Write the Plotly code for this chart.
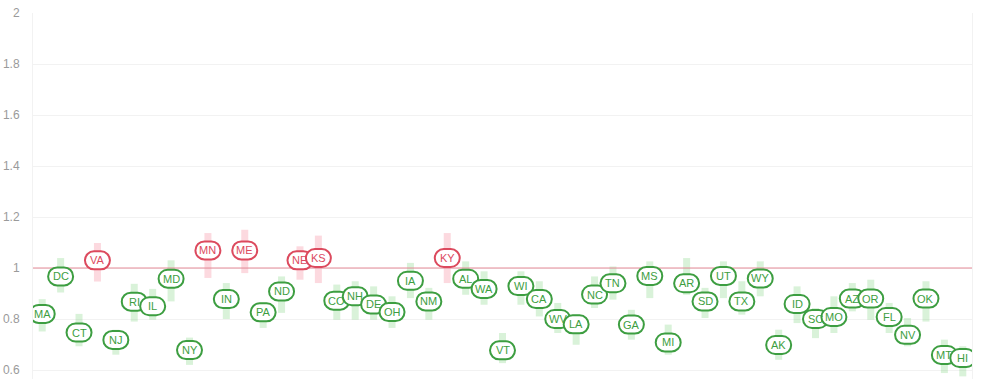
import plotly.graph_objects as go

states = ["MA","DC","CT","VA","NJ","RI","IL","MD","NY","MN","IN","ME","PA","ND","NE","KS",
          "CO","NH","DE","OH","IA","NM","KY","AL","WA","VT","WI","CA","WV","LA","NC","TN",
          "GA","MS","MI","AR","SD","UT","TX","WY","AK","ID","SC","MO","AZ","OR","FL","NV",
          "OK","MT","HI"]
value = [0.82,0.967,0.747,1.03,0.718,0.868,0.85,0.958,0.678,1.069,0.878,1.069,0.826,0.908,1.03,1.039,
         0.872,0.889,0.857,0.827,0.95,0.869,1.039,0.958,0.918,0.677,0.929,0.878,0.80,0.779,0.896,0.94,
         0.778,0.969,0.708,0.94,0.869,0.969,0.869,0.959,0.698,0.859,0.80,0.808,0.88,0.88,0.808,0.738,
         0.88,0.659,0.647]
low = [0.751,0.904,0.693,0.947,0.66,0.79,0.797,0.869,0.62,0.961,0.80,0.98,0.765,0.824,0.954,0.941,
       0.797,0.797,0.797,0.765,0.882,0.797,0.941,0.895,0.856,0.627,0.856,0.81,0.745,0.699,0.843,0.876,
       0.719,0.882,0.66,0.895,0.804,0.882,0.817,0.889,0.64,0.784,0.725,0.745,0.83,0.797,0.745,0.693,
       0.79,0.588,0.575]
high = [0.878,1.039,0.82,1.098,0.758,0.938,0.918,1.03,0.727,1.137,0.941,1.15,0.864,0.967,1.085,1.127,
        0.935,0.948,0.928,0.889,1.02,0.922,1.137,1.026,0.987,0.745,0.987,0.948,0.863,0.817,0.967,1.006,
        0.836,1.026,0.778,1.039,0.922,1.026,0.948,1.026,0.758,0.928,0.843,0.889,0.941,0.954,0.863,0.804,
        0.948,0.719,0.693]
y_ticks = [0.6, 0.8, 1.0, 1.2, 1.4, 1.6, 1.8, 2.0]
y_tick_text = ["0.6", "0.8", "1", "1.2", "1.4", "1.6", "1.8", "2"]
reference_value = 1.0

GREEN = "#3d9e41"
RED = "#dc4a5e"
PALE_GREEN = "rgba(120,210,120,0.28)"
PALE_RED = "rgba(245,120,140,0.28)"

xs = list(range(len(states)))
colors = [RED if v > reference_value else GREEN for v in value]


def pill_path(hw, hh):
    r = hh
    s = hw - r
    k = 0.5523 * r
    return (f"M {-s},{-r} L {s},{-r} C {s+k},{-r} {hw},{-k} {hw},0 C {hw},{k} {s+k},{r} {s},{r} "
            f"L {-s},{r} C {-s-k},{r} {-hw},{k} {-hw},0 C {-hw},{-k} {-s-k},{-r} {-s},{-r} Z")


shapes = []
# uncertainty bars
for i, (lo, hi, v) in enumerate(zip(low, high, value)):
    shapes.append(dict(type="rect", layer="between", xref="x", yref="y",
                       xsizemode="pixel", xanchor=i, x0=-3.5, x1=3.5, y0=lo, y1=hi,
                       fillcolor=PALE_RED if v > reference_value else PALE_GREEN,
                       line=dict(width=0)))
# reference line
shapes.append(dict(type="line", layer="above", xref="paper", yref="y",
                   x0=0, x1=1, y0=reference_value, y1=reference_value,
                   line=dict(color="#e58a97", width=1)))
# pill-shaped labels
pill = pill_path(12.5, 9)
for i, (v, c) in enumerate(zip(value, colors)):
    shapes.append(dict(type="path", layer="above", xref="x", yref="y",
                       xsizemode="pixel", ysizemode="pixel", xanchor=i, yanchor=v,
                       path=pill, fillcolor="white", line=dict(color=c, width=2)))

annotations = [dict(x=i, y=v, xref="x", yref="y", text=s, showarrow=False,
                    xanchor="center", yanchor="middle",
                    font=dict(family="Arial", size=11, color=c))
               for i, (s, v, c) in enumerate(zip(states, value, colors))]

fig = go.Figure()
fig.add_trace(go.Scatter(x=xs, y=value, mode="markers", marker=dict(size=1, opacity=0),
                         hoverinfo="skip", showlegend=False))

fig.update_layout(
    width=983, height=379,
    margin=dict(l=33, r=11, t=13, b=0),
    paper_bgcolor="white", plot_bgcolor="white",
    shapes=shapes,
    annotations=annotations,
    showlegend=False,
    xaxis=dict(range=[-0.5, len(states) - 0.5], showgrid=False, zeroline=False,
               showticklabels=False, ticks="", showline=False, fixedrange=True),
    yaxis=dict(range=[0.5647, 2.0], tickvals=y_ticks, ticktext=y_tick_text,
               showgrid=True, gridcolor="#f2f2f2", gridwidth=1, zeroline=False,
               showline=True, mirror=True, linecolor="#f2f2f2", linewidth=1,
               ticks="", ticklabelstandoff=10,
               tickfont=dict(family="Arial", size=12, color="#9a9a9a")),
)

fig.write_html("out.html")
